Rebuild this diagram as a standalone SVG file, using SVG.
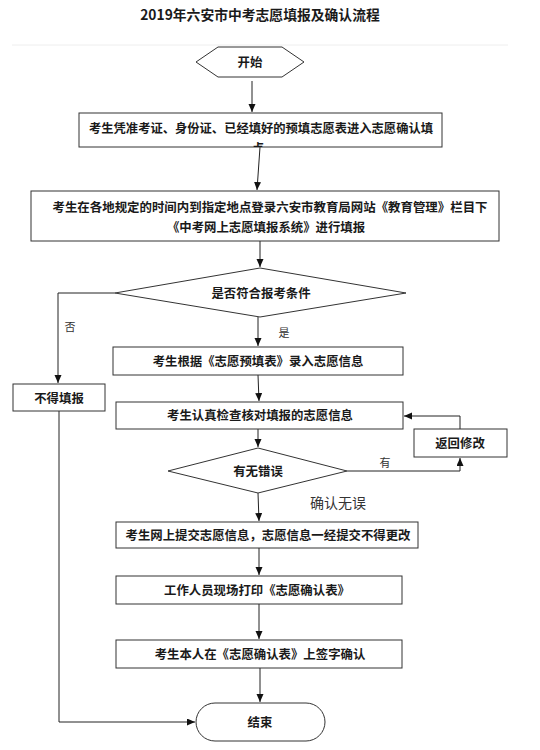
<svg xmlns="http://www.w3.org/2000/svg" width="540" height="750" viewBox="0 0 540 750">
<style>
.t{font-family:"Noto Sans CJK SC","Liberation Sans",sans-serif;font-weight:bold;fill:#1a1a1a;text-anchor:middle;dominant-baseline:central;font-size:12.4px}
.lb{font-family:"Noto Sans CJK SC","Liberation Serif",serif;fill:#333;text-anchor:middle;dominant-baseline:central;font-size:11px}
.s{fill:#fff;stroke:#333;stroke-width:1}
.c{fill:none;stroke:#222;stroke-width:1}
</style>
<defs>
<marker id="ah" markerUnits="userSpaceOnUse" markerWidth="9" markerHeight="8" refX="8" refY="3.5" orient="auto">
<path d="M0,0 L8,3.5 L0,7 z" fill="#111"/>
</marker>
<clipPath id="cb1"><rect x="79" y="113" width="363" height="34"/></clipPath>
</defs>
<rect width="540" height="750" fill="#fff"/>
<text x="260" y="14" class="t" style="font-size:13.8px">2019年六安市中考志愿填报及确认流程</text>
<line x1="12" y1="45" x2="508" y2="45" stroke="#eee" stroke-width="1"/>

<g id="connectors">
<line class="c" x1="252" y1="81" x2="252" y2="112" marker-end="url(#ah)"/>
<line class="c" x1="260" y1="147" x2="257" y2="190" marker-end="url(#ah)"/>
<line class="c" x1="260" y1="241" x2="260" y2="267" marker-end="url(#ah)"/>
<polyline class="c" points="115,293 58,293 58,383" marker-end="url(#ah)"/>
<line class="c" x1="258" y1="317" x2="258" y2="346" marker-end="url(#ah)"/>
<line class="c" x1="258" y1="375" x2="259" y2="401" marker-end="url(#ah)"/>
<polyline class="c" points="460,429 460,416 404,416" marker-end="url(#ah)"/>
<line class="c" x1="258" y1="429" x2="258" y2="447" marker-end="url(#ah)"/>
<polyline class="c" points="347,471 460,471 460,458" marker-end="url(#ah)"/>
<line class="c" x1="258" y1="493" x2="259" y2="521" marker-end="url(#ah)"/>
<line class="c" x1="259" y1="548" x2="259" y2="575" marker-end="url(#ah)"/>
<line class="c" x1="259" y1="604" x2="259" y2="639" marker-end="url(#ah)"/>
<line class="c" x1="260" y1="668" x2="260" y2="702" marker-end="url(#ah)"/>
<polyline class="c" points="59,411 59,722 195,722" marker-end="url(#ah)"/>
<text x="70" y="326" class="lb">否</text>
<text x="284" y="332" class="lb">是</text>
<text x="385" y="462" class="lb">有</text>
<text x="338" y="502" class="lb" style="font-size:14px">确认无误</text>
</g>

<g id="start">
<polygon class="s" points="196,62 218,47 282,47 304,62 282,77 218,77"/>
<text x="250" y="62" class="t">开始</text>
</g>
<g id="step1">
<rect class="s" x="79" y="113" width="363" height="34"/>
<text x="261" y="128" class="t" textLength="344" lengthAdjust="spacingAndGlyphs">考生凭准考证、身份证、已经填好的预填志愿表进入志愿确认填</text>
<text x="258" y="148" class="t" clip-path="url(#cb1)">点</text>
</g>
<g id="step2">
<rect class="s" x="31" y="191" width="468" height="50"/>
<text x="270" y="207" class="t" textLength="435" lengthAdjust="spacingAndGlyphs">考生在各地规定的时间内到指定地点登录六安市教育局网站《教育管理》栏目下</text>
<text x="266" y="227" class="t">《中考网上志愿填报系统》进行填报</text>
</g>
<g id="cond1">
<polygon class="s" points="260,268 406,293 260,317 115,293"/>
<text x="261" y="293" class="t">是否符合报考条件</text>
</g>
<g id="reject">
<rect class="s" x="13" y="384" width="92" height="27"/>
<text x="59" y="398" class="t">不得填报</text>
</g>
<g id="step3">
<rect class="s" x="113" y="347" width="290" height="28"/>
<text x="258" y="361" class="t">考生根据《志愿预填表》录入志愿信息</text>
</g>
<g id="step4">
<rect class="s" x="116" y="402" width="287" height="27"/>
<text x="260" y="415" class="t">考生认真检查核对填报的志愿信息</text>
</g>
<g id="back">
<rect class="s" x="414" y="429" width="93" height="28"/>
<text x="460" y="443" class="t">返回修改</text>
</g>
<g id="cond2">
<polygon class="s" points="258,448 347,471 258,493 168,471"/>
<text x="258" y="471" class="t">有无错误</text>
</g>
<g id="step5">
<rect class="s" x="116" y="522" width="302" height="26"/>
<text x="268" y="535" class="t">考生网上提交志愿信息，志愿信息一经提交不得更改</text>
</g>
<g id="step6">
<rect class="s" x="116" y="576" width="286" height="28"/>
<text x="257" y="590" class="t">工作人员现场打印《志愿确认表》</text>
</g>
<g id="step7">
<rect class="s" x="116" y="640" width="286" height="28"/>
<text x="260" y="654" class="t">考生本人在《志愿确认表》上签字确认</text>
</g>
<g id="end">
<rect class="s" x="196" y="703" width="129" height="38" rx="19" ry="19"/>
<text x="260" y="722" class="t">结束</text>
</g>
</svg>
